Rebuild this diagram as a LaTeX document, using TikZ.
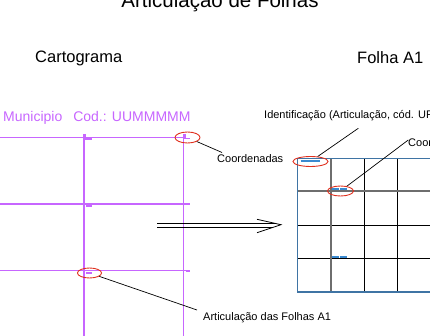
\documentclass[tikz,border=0pt]{standalone}
\usepackage{fontspec}
\setmainfont{Liberation Sans}
\usetikzlibrary{shapes.geometric}
\definecolor{purp}{HTML}{C766FF}
\definecolor{redo}{HTML}{E0301E}
\definecolor{frameblue}{HTML}{3F74A4}
\definecolor{markblue}{HTML}{3A8AD0}
\definecolor{gridgrey}{HTML}{6E6E6E}
\tikzset{
  lbl/.style={inner sep=0pt, anchor=base west, font=\fontsize{11}{13}\selectfont},
  hdr/.style={inner sep=0pt, anchor=base west, font=\fontsize{16.5}{19}\selectfont},
  purpline/.style={draw=purp, line width=1.3pt},
  purpmark/.style={fill=purp, draw=none},
  ring/.style={ellipse, draw=redo, line width=0.9pt, inner sep=0pt},
  leader/.style={draw=black, line width=0.7pt},
  thickgrid/.style={draw=gridgrey, line width=1.8pt},
  thingrid/.style={draw=black, line width=0.9pt},
  bluemark/.style={draw=markblue, line width=2pt},
  arrowline/.style={draw=black, line width=0.8pt},
}
\begin{document}
\begin{tikzpicture}[x=1pt,y=-1pt]
\useasboundingbox (0,0) rectangle (430,336);
% title and headers
\node[inner sep=0pt, anchor=base, font=\fontsize{20.5}{24}\selectfont] (title) at (220,8) {Articulação de Folhas};
\node[hdr] (cart) at (35,62.3) {Cartograma};
\node[hdr] (folha) at (357,63.3) {Folha A1};
% cartograma
\node[inner sep=0pt, anchor=base west, font=\fontsize{14}{16}\selectfont, text=purp] (mun) at (3,121.7) {Municipio\hspace{11pt}Cod.: UUMMMMM};
\foreach \yy in {137.3,204,270.7} {\draw[purpline] (-2,\yy) -- (186,\yy);}
\foreach \xx in {84,183.5} {\draw[purpline] (\xx,137.3) -- (\xx,340);}
\fill[purpmark] (83,134) rectangle (86.3,137.3);
\fill[purpmark] (84,137.6) rectangle (92.3,139.6);
\fill[purpmark] (86,205) rectangle (92.3,206.8);
\fill[purpmark] (86,271.8) rectangle (92.3,273.6);
\fill[purpmark] (183,134) rectangle (186.3,137.3);
\fill[purpmark] (184,137.6) rectangle (189.5,139.2);
\fill[purpmark] (185.5,203.5) rectangle (190,205);
\fill[purpmark] (185.5,270) rectangle (190,271.5);
% rings and leaders on cartograma
\node[ring, minimum width=25pt, minimum height=11pt] (e1) at (187.5,137.5) {};
\node[ring, minimum width=24pt, minimum height=10pt] (e2) at (89.5,273) {};
\node[lbl] (coordL) at (217,163) {Coordenadas};
\node[lbl] (artic) at (203,320) {Articulação das Folhas A1};
\coordinate (c1) at (222,152.5);
\coordinate (c2) at (197,310);
\draw[leader] (e1) -- (c1);
\draw[leader] (e2) -- (c2);
% double arrow
\coordinate (a0) at (157,225.3);
\coordinate (tip) at (281,224.7);
\draw[arrowline] (157,223.3) -- (274.5,223.3);
\draw[arrowline] (157,227.3) -- (273,227.3);
\draw[arrowline] (257,219.3) -- (tip) -- (257,232.7);
% folha A1 grid
\draw[thingrid] (364.3,158.7) -- (364.3,292);
\draw[thingrid] (397.7,158.7) -- (397.7,292);
\draw[thingrid] (297.7,225.3) -- (440,225.3);
\draw[thingrid] (297.7,258.7) -- (440,258.7);
\draw[thickgrid] (330.7,158.7) -- (330.7,292);
\draw[thickgrid] (297.7,191.3) -- (440,191.3);
\draw[draw=frameblue, line width=1.4pt] (440,158.7) -- (297.7,158.7) -- (297.7,292) -- (440,292);
\draw[bluemark] (300.5,161.5) -- (320,161.5);
\draw[bluemark, dash pattern=on 7pt off 1pt] (332,189.5) -- (348,189.5);
\draw[bluemark, dash pattern=on 7pt off 1pt] (332,256.5) -- (347,256.5);
% rings and leaders on folha
\node[ring, minimum width=35pt, minimum height=10pt] (e3) at (310.5,161.5) {};
\node[ring, minimum width=26pt, minimum height=10pt] (e4) at (340.5,191) {};
\node[lbl] (ident) at (264,119) {Identificação (Articulação, cód. UF};
\node[lbl] (coordR) at (408,147) {Coor};
\coordinate (c3) at (358.3,128.3);
\coordinate (c4) at (408.3,140);
\draw[leader] (e3) -- (c3);
\draw[leader] (e4) -- (c4);
\end{tikzpicture}
\end{document}
